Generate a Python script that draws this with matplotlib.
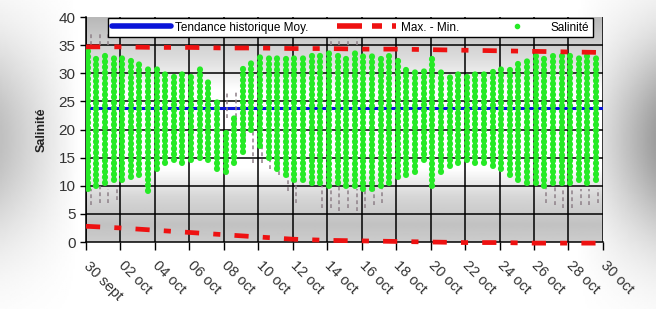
import numpy as np
import matplotlib
matplotlib.use("Agg")
import matplotlib.pyplot as plt
import matplotlib.transforms as mtransforms
from matplotlib.lines import Line2D

plt.rcParams['font.family'] = ['Liberation Sans', 'DejaVu Sans']

# ---------------- data ----------------
tick_days = [0, 2, 4, 6, 8, 10, 12, 14, 16, 18, 20, 22, 24, 26, 28, 30]
tick_labels = ["30 sept", "02 oct", "04 oct", "06 oct", "08 oct", "10 oct", "12 oct",
               "14 oct", "16 oct", "18 oct", "20 oct", "22 oct", "24 oct", "26 oct",
               "28 oct", "30 oct"]

# salinity: one column per half-day tidal cycle (days since 30 sept)
sal_days = [0.1, 0.6, 1.1, 1.6, 2.1, 2.6, 3.1, 3.6, 4.1, 4.6, 5.1, 5.6, 6.1, 6.6, 7.1, 7.6,
            8.1, 8.6, 9.1, 9.6, 10.1, 10.6, 11.1, 11.6, 12.1, 12.6, 13.1, 13.6, 14.1, 14.6,
            15.1, 15.6, 16.1, 16.6, 17.1, 17.6, 18.1, 18.6, 19.1, 19.6, 20.1, 20.6, 21.1,
            21.6, 22.1, 22.6, 23.1, 23.6, 24.1, 24.6, 25.1, 25.6, 26.1, 26.6, 27.1, 27.6,
            28.1, 28.6, 29.1, 29.6]
sal_high = [34, 33.5, 34, 33, 33, 32.5, 32, 31.5, 31, 30.5, 30, 30.5, 30, 31, 29, 25,
            20, 22, 31.5, 32.5, 33, 33, 33.5, 33, 33.5, 33.5, 34, 33.5, 34, 34,
            33.5, 34, 33.5, 33.5, 33, 33, 32.5, 31.5, 31, 30.5, 33, 31, 30, 30.5,
            30, 30.5, 30, 30.5, 31, 31.5, 32, 32.5, 33, 33.5, 33, 33.5, 34, 33.5, 33, 33]
sal_low = [9.5, 10, 10.5, 11, 11, 11.5, 12, 9, 13, 14, 14.5, 14, 14.5, 15, 14.5, 13,
           12.5, 14, 16, 20, 17, 15, 13, 12, 11, 11, 10.5, 10.5, 10, 10.5,
           10, 10, 9.5, 9.5, 10, 10.5, 11.5, 12, 12.5, 14.5, 10, 12.5, 13.5, 14,
           14.5, 14, 14, 13.5, 13, 12, 11, 10.5, 10.5, 10, 10.5, 10.5, 10.5, 11, 10.5, 11]

# historical values (grey dashes)
hist_days = [0.3, 0.8, 1.3, 1.8, 0.3, 0.8, 1.3, 8.2, 8.7, 9.2, 9.7, 10.2, 10.7, 11.2, 11.7,
             12.2, 13.7, 14.2, 14.7, 15.2, 15.7, 16.2, 16.7, 17.2, 14.2, 14.7, 15.2, 15.7,
             26.7, 27.2, 27.7, 28.2, 28.7, 29.2, 29.7]
hist_low = [6.5, 7, 7, 7.5, 35, 35, 35, 22, 21, 18, 14, 14, 13, 12, 9,
            7, 6, 6, 5.5, 6, 5.5, 6, 6.5, 7, 35, 35, 35, 35,
            7, 6.5, 6, 6, 6.5, 6.5, 7]
hist_high = [9.5, 10, 9.5, 9.5, 37, 37, 37, 26.5, 27, 24, 20, 19, 18, 17, 14,
             12, 10, 10, 10, 10, 9.5, 9.5, 9.5, 10, 36.5, 36.5, 36.5, 36.5,
             10, 10, 9.5, 9.5, 9.5, 9.5, 9.5]

trend_days = [0, 30]
trend_mean = [23.8, 23.8]

mm_days = [0, 2, 4, 6, 8, 10, 12, 14, 16, 18, 20, 22, 24, 26, 28, 30]
max_vals = [34.7, 34.7, 34.6, 34.6, 34.5, 34.5, 34.4, 34.4, 34.3, 34.3, 34.2, 34.1, 34.0, 33.9, 33.8, 33.7]
min_vals = [2.8, 2.5, 2.1, 1.7, 1.3, 0.9, 0.5, 0.3, 0.2, 0.1, 0.0, -0.1, -0.1, -0.2, -0.2, -0.2]

# ---------------- figure ----------------
fig = plt.figure(figsize=(6.56, 3.09), dpi=100)

# figure background gradient
bg = fig.add_axes([0, 0, 1, 1], zorder=-10)
bg.set_axis_off()
xx, yy = np.meshgrid(np.linspace(0, 1, 300), np.linspace(1, 0, 150))
vert = np.exp(-((yy - 0.55) / 0.33) ** 2)
left = np.clip((0.12 - xx) / 0.12, 0, 1) * 0.25
right = np.clip((xx - 0.88) / 0.12, 0, 1) * 0.38
shade = 1 - (left + right) * vert
bg.imshow(shade, cmap='gray', vmin=0, vmax=1, aspect='auto', extent=[0, 1, 0, 1])
bg.set_xlim(0, 1)
bg.set_ylim(0, 1)

ax = fig.add_axes([0.1311, 0.2168, 0.788, 0.728])
ax.set_xlim(0, 30)
ax.set_ylim(0, 40)

# plot-area background gradient (vertical)
gy = np.linspace(0, 40, 200)
gval = np.interp(gy, [0, 3, 8, 13, 27, 33, 40], [0.80, 0.76, 0.84, 1.0, 1.0, 0.86, 0.72])
ax.imshow(gval[:, None], cmap='gray', vmin=0, vmax=1, aspect='auto',
          extent=[0, 30, 0, 40], origin='lower', zorder=0)

# grid
for d in tick_days:
    ax.axvline(d, color='black', lw=1.1, zorder=1)
for v in range(5, 40, 5):
    ax.axhline(v, color='black', lw=1.1, zorder=1)

# mean trend
ax.plot(trend_days, trend_mean, color='#0a14d8', lw=2.2, zorder=2)

# historical grey dashes
ax.vlines(hist_days, hist_low, hist_high, colors='#8e8088', lw=1.1,
          linestyles=(0, (2.5, 2)), zorder=2)

# salinity dots
ax.vlines(sal_days, sal_low, sal_high, colors='#26ea26', lw=4.4,
          linestyles=(0, (0.1, 0.8)), capstyle='round', zorder=3)

# max / min
mm_style = dict(color='#ee1111', lw=3.4, linestyle=(0, (3, 3, 1.5, 3)), zorder=4,
                clip_on=False, solid_capstyle='butt')
ax.plot(mm_days, max_vals, **mm_style)
ax.plot(mm_days, min_vals, **mm_style)

# axes styling
for s in ['top', 'right']:
    ax.spines[s].set_visible(False)
ax.spines['left'].set_color('black')
ax.spines['bottom'].set_color('black')
ax.spines['left'].set_linewidth(1.1)
ax.spines['bottom'].set_linewidth(1.1)

ax.set_yticks(range(0, 41, 5))
ax.tick_params(axis='y', labelsize=11, colors='black', labelcolor='#333333', length=4, width=1)
ax.set_xticks(tick_days)
ax.set_xticklabels(tick_labels, rotation=-45, ha='left', va='top', rotation_mode='anchor')
ax.tick_params(axis='x', labelsize=10.5, labelcolor='#333333', length=6, width=1, pad=6)
offset = mtransforms.ScaledTranslation(5 / 100, 0, fig.dpi_scale_trans)
for lab in ax.get_xticklabels():
    lab.set_transform(lab.get_transform() + offset)

ax.set_ylabel('Salinité', fontsize=9, fontweight='bold', color='#222222', labelpad=8)

# legend
handles = [
    Line2D([], [], color='#0a14d8', lw=4, solid_capstyle='round'),
    Line2D([], [], color='#ee1111', lw=4, linestyle=(0, (4.5, 1.8, 1.8, 1.8))),
    Line2D([], [], color='#26ea26', marker='o', markersize=3, linestyle='None'),
]
labels = ['Tendance historique Moy.', 'Max. - Min.', 'Salinité']
leg = fig.legend(handles, labels, loc='lower left', ncol=3, mode='expand',
                 bbox_to_anchor=(0.1646, 0.880, 0.7394, 0.0715), fontsize=8.5,
                 frameon=True, fancybox=False, edgecolor='black', framealpha=1,
                 handlelength=5.0, handletextpad=0.4, borderpad=0.3,
                 borderaxespad=0)
leg.get_frame().set_linewidth(1.0)
leg.set_zorder(20)

fig.savefig('out.png', dpi=100)
